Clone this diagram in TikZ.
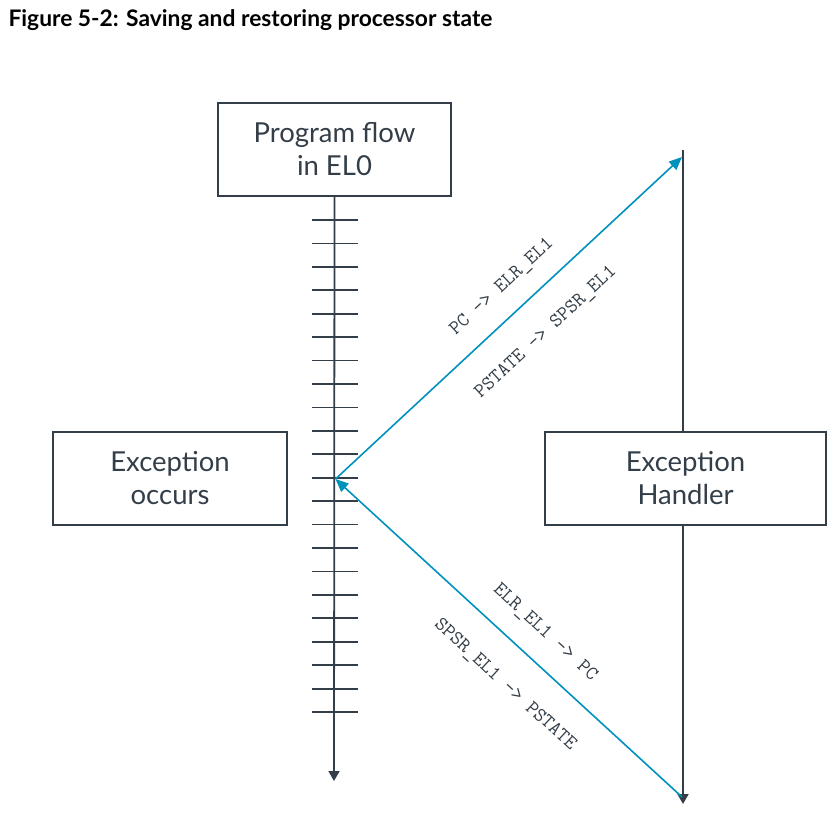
\documentclass[tikz,border=0pt]{standalone}
\usepackage{fontspec}
\setmainfont{Lato}
\usetikzlibrary{arrows.meta}
\definecolor{armdark}{HTML}{333E48}
\definecolor{armblue}{HTML}{0091BD}
\tikzset{
  stagebox/.style={draw=armdark, line width=1.5pt, text=armdark, align=center,
    font=\fontsize{27.5}{33}\selectfont, inner sep=0pt},
  flowline/.style={draw=armdark, line width=1.8pt},
  regtext/.style={text=armdark, font=\ttfamily\fontsize{20}{22}\selectfont, inner sep=0pt},
}
\begin{document}
\begin{tikzpicture} [x=1pt, y=-1pt]
\useasboundingbox (0,0) rectangle (835,817);
\node[anchor=base west, font=\bfseries\fontsize{22.8}{26}\selectfont] (title) at (5,26) {Figure 5-2: Saving and restoring processor state};
\node[stagebox, minimum width=233pt, minimum height=93pt] (prog) at (334.5,149.5) {Program flow\\in EL0};
\node[stagebox, minimum width=234pt, minimum height=93pt] (occurs) at (170,478.5) {Exception\\occurs};
\node[stagebox, minimum width=281pt, minimum height=93pt] (handler) at (685.5,478.5) {Exception\\Handler};
\coordinate (flowend) at (334,781);
\coordinate (htop) at (683,150);
\coordinate (hbot) at (683,804);
\coordinate (exc) at (335.5,479);
\coordinate (hin) at (682,157);
\coordinate (hout) at (682,797);
% program flow in EL0
\draw[flowline, -{Triangle[length=10pt,width=11pt]}] (prog.south) -- (flowend);
\foreach \i in {0,...,21}
 \draw[flowline] (312,220+23.43*\i) --++(46,0);
% handler
\draw[flowline] (htop) -- (htop |- handler.north);
\draw[flowline, -{Triangle[length=10pt,width=11pt]}] (htop |- handler.south) -- (hbot);
% taking and returning
\draw[armblue, line width=1.6pt, -{Triangle[length=13pt,width=11pt]}] (exc) -- (hin);
\draw[armblue, line width=1.6pt, -{Triangle[length=13pt,width=11pt]}] (hout) -- (exc);
\node[regtext, rotate=42.9] (savepc) at (502,287) {PC -> ELR\_EL1};
\node[regtext, rotate=42.9] (savepstate) at (546,332) {PSTATE -> SPSR\_EL1};
\node[regtext, rotate=-42.6] (restpc) at (545,633) {ELR\_EL1 -> PC};
\node[regtext, rotate=-42.6] (restpstate) at (505,685) {SPSR\_EL1 -> PSTATE};
\end{tikzpicture}
\end{document}
